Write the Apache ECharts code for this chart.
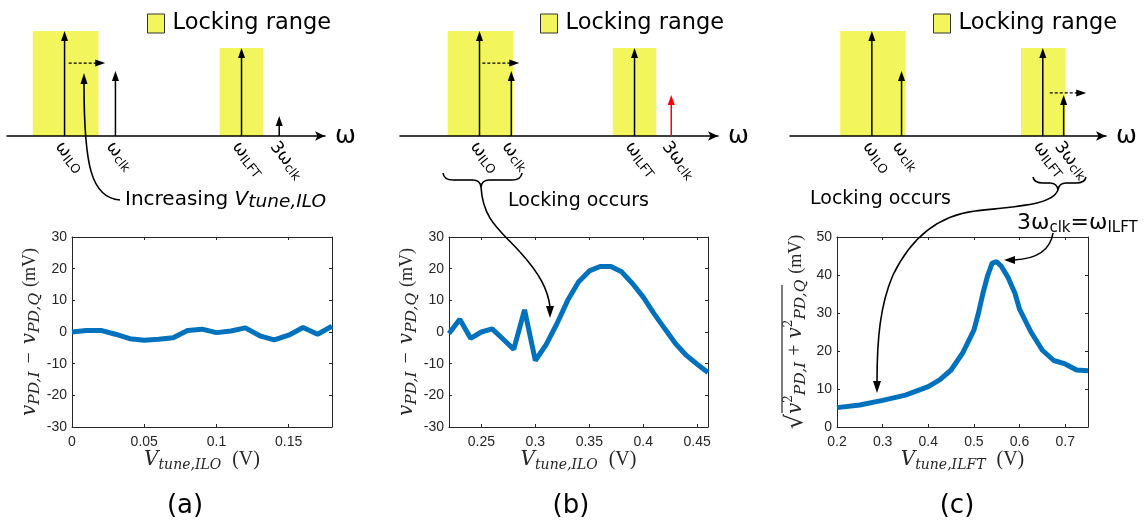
<!DOCTYPE html>
<html><head><meta charset="utf-8">
<script src="https://cdn.jsdelivr.net/npm/echarts@6/dist/echarts.min.js"></script>
<style>html,body{margin:0;padding:0;background:#fff}#c{width:1145px;height:526px}</style>
</head><body><div id="c"></div>
<script>
// ---------- data: measured curves ----------
const xA = [0,0.01,0.02,0.03,0.04,0.05,0.06,0.07,0.08,0.09,0.1,0.11,0.12,0.13,0.14,0.15,0.16,0.17,0.18];
const yA = [0,0.5,0.5,-0.7,-2.1,-2.6,-2.3,-1.8,0.5,0.9,-0.2,0.3,1.3,-1.2,-2.5,-1,1.4,-0.7,1.8];
const xB = [0.22,0.23,0.24,0.25,0.26,0.27,0.28,0.29,0.30,0.31,0.32,0.33,0.34,0.35,0.36,0.37,0.38,0.39,0.40,0.41,0.42,0.43,0.44,0.45,0.46];
const yB = [-0.5,4,-2,0,1,-2.2,-5.5,7,-9,-4,2.6,10,15.8,19.3,20.7,20.7,19,15.3,11,5.8,1,-3.7,-7.4,-10.2,-12.8];
const xC = [0.2,0.25,0.3,0.35,0.4,0.425,0.45,0.475,0.5,0.51,0.52,0.53,0.54,0.55,0.56,0.575,0.59,0.6,0.625,0.65,0.675,0.7,0.725,0.75];
const yC = [5.1,5.8,7,8.4,10.6,12.4,15,19.4,25.5,30,35.3,39.8,43.1,43.5,42.3,39.3,35.2,31,25,20.2,17.5,16.6,15,14.8];
// tick labels
const ticksXA = [0,0.05,0.1,0.15];
const ticksXB = [0.25,0.3,0.35,0.4,0.45];
const ticksXC = [0.2,0.3,0.4,0.5,0.6,0.7];
const ticksYAB = [-30,-20,-10,0,10,20,30];
const ticksYC = [0,10,20,30,40,50];
// ---------- schematic spectra (omega axis 0..100, amplitude 0..100) ----------
const toneNames = ['ILO','clk','ILFT','3clk'];
const tonesA = [[18.1,100],[34.1,62],[73.75,83.8],[85.6,19]];
const tonesB = [[25,100],[35,62],[73.75,83.8],[85.3,39]];
const tonesC = [[25.9,100],[35.3,62],[80,83.8],[86.6,39]];
const toneColorsA = ['#000','#000','#000','#000'];
const toneColorsB = ['#000','#000','#000','#f00'];
const toneColorsC = ['#000','#000','#000','#000'];
const boxesA = [[8.1,28.75,100],[66.9,80.6,83.8]];
const boxesB = [[15,35.6,100],[66.9,80.6,83.8]];
const boxesC = [[15.9,36.6,100],[73.1,87.2,83.8]];
const shiftA = [[19.4,30.9,69.5]];
const shiftB = [[25.9,37.5,69.5]];
const shiftC = [[82.2,93.75,41]];

const YEL = '#f2f55c';
const INK = '#262626';
const BLUE = '#0072BD';

const SERIF_IT = 'DejaVu Serif';
const mathRich = {
  v: {fontFamily:SERIF_IT, fontStyle:'italic', fontSize:20, color:INK, lineHeight:26},
  V: {fontFamily:SERIF_IT, fontStyle:'italic', fontSize:20, color:INK, lineHeight:24},
  s: {fontFamily:SERIF_IT, fontStyle:'italic', fontSize:15.5, color:INK, verticalAlign:'bottom', lineHeight:19},
  sx: {fontFamily:SERIF_IT, fontStyle:'italic', fontSize:14, color:INK, verticalAlign:'bottom', lineHeight:17},
  sup: {fontFamily:SERIF_IT, fontSize:12, color:INK, verticalAlign:'top', lineHeight:16},
  o: {fontFamily:'Liberation Serif', fontSize:20, color:INK, lineHeight:26, padding:[0,8,0,8]},
  p: {fontFamily:'Liberation Serif', fontSize:20, color:INK, lineHeight:26, padding:[0,6,0,6]},
  r: {fontFamily:'Liberation Serif', fontSize:18, color:INK, lineHeight:26, padding:[0,0,0,6]},
  rx: {fontFamily:'Liberation Serif', fontSize:20, color:INK, lineHeight:24, padding:[0,0,0,11]},
  sq: {fontFamily:'DejaVu Serif', fontSize:24, color:INK, lineHeight:26}
};

function plotAxes(gi, xmin, xmax, xt, ymin, ymax, yint, yt, xname, yname, ygap) {
  const line = {show:true, onZero:false, lineStyle:{color:INK, width:1}};
  const tick = (vals) => ({show:true, inside:true, length:3, customValues:vals, lineStyle:{color:INK, width:1}});
  const xs = [
    {type:'value', gridIndex:gi, min:xmin, max:xmax, position:'bottom', axisLine:line, axisTick:tick(xt),
     axisLabel:{customValues:xt, color:INK, fontFamily:'Liberation Sans', fontSize:14, margin:8},
     splitLine:{show:false}, name:xname, nameLocation:'middle', nameGap:21,
     nameTextStyle:{rich:mathRich}},
    {type:'value', gridIndex:gi, min:xmin, max:xmax, position:'top', axisLine:line, axisTick:tick(xt),
     axisLabel:{show:false}, splitLine:{show:false}}
  ];
  const ys = [
    {type:'value', gridIndex:gi, min:ymin, max:ymax, interval:yint, position:'left', axisLine:line, axisTick:tick(yt),
     axisLabel:{customValues:yt, color:INK, fontFamily:'Liberation Sans', fontSize:14, margin:5},
     splitLine:{show:false}, name:yname, nameLocation:'middle', nameGap:ygap,
     nameTextStyle:{rich:mathRich}},
    {type:'value', gridIndex:gi, min:ymin, max:ymax, interval:yint, position:'right', axisLine:line, axisTick:tick(yt),
     axisLabel:{show:false}, splitLine:{show:false}}
  ];
  return {xs, ys};
}

const nameXILO = '{V|V}{sx|tune,ILO}{rx|(V)}';
const nameXILFT = '{V|V}{sx|tune,ILFT}{rx|(V)}';
const nameYDiff = '{v|v}{s|PD,I}{o|−}{v|v}{s|PD,Q}{r|(mV)}';
const nameYMag = '{sq|√}{v|v}{sup|2}{s|PD,I}{p|+}{v|v}{sup|2}{s|PD,Q}{r|(mV)}';
const pA = plotAxes(0, 0, 0.18, ticksXA, -30, 30, 10, ticksYAB, nameXILO, nameYDiff, 28);
const pB = plotAxes(1, 0.22, 0.46, ticksXB, -30, 30, 10, ticksYAB, nameXILO, nameYDiff, 28);
const pC = plotAxes(2, 0.2, 0.75, ticksXC, 0, 50, 10, ticksYC, nameXILFT, nameYMag, 28);

function topX(gi) {
  return {type:'value', gridIndex:gi, min:0, max:100, z:5,
    axisLine:{show:true, symbol:['none','arrow'], symbolSize:[7,10], lineStyle:{color:'#000', width:1.5}},
    axisTick:{show:false}, axisLabel:{show:false}, splitLine:{show:false},
    name:'ω', nameLocation:'end', nameGap:10,
    nameTextStyle:{fontFamily:'DejaVu Sans', fontSize:25, color:'#000', verticalAlign:'middle', padding:[0,0,4,0]}};
}
function topY(gi) {
  return {type:'value', gridIndex:gi, min:0, max:100, show:false};
}

const labRich = {
  w: {fontFamily:'DejaVu Sans', fontSize:17, lineHeight:20, fill:'#000'},
  s: {fontFamily:'DejaVu Sans', fontSize:12.5, lineHeight:13, verticalAlign:'bottom', fill:'#000'}
};
function labText(k) {
  return k === '3clk' ? '{w|3ω}{s|clk}' : '{w|ω}{s|' + k + '}';
}

function boxSeries(gi, boxes) {
  return {type:'custom', name:'Locking range', xAxisIndex:gi, yAxisIndex:gi, data:boxes, clip:false, silent:true, z:1,
    itemStyle:{color:YEL},
    renderItem(params, api) {
      const p0 = api.coord([api.value(0), api.value(2)]);
      const p1 = api.coord([api.value(1), 0]);
      return {type:'rect', shape:{x:p0[0], y:p0[1], width:p1[0]-p0[0], height:p1[1]-p0[1]}, style:{fill:YEL}};
    }};
}
function toneSeries(gi, tones, colors) {
  return {type:'custom', xAxisIndex:gi, yAxisIndex:gi, data:tones, clip:false, silent:true, z:6,
    renderItem(params, api) {
      const x = api.value(0), h = api.value(1);
      const b = api.coord([x, 0]), t = api.coord([x, h]);
      const col = colors[params.dataIndex];
      const k = toneNames[params.dataIndex];
      return {type:'group', children:[
        {type:'line', shape:{x1:b[0], y1:b[1], x2:t[0], y2:t[1]+8}, style:{stroke:col, lineWidth:1.5}},
        {type:'polygon', shape:{points:[[t[0],t[1]],[t[0]-3.5,t[1]+10],[t[0]+3.5,t[1]+10]]}, style:{fill:col}},
        {type:'text', x:b[0]-6, y:b[1]+8, rotation:-0.89,
         style:{text:labText(k), rich:labRich, fill:'#000', align:'left', verticalAlign:'middle'}}
      ]};
    }};
}
function shiftSeries(gi, arr) {
  return {type:'custom', xAxisIndex:gi, yAxisIndex:gi, data:arr, clip:false, silent:true, z:6,
    renderItem(params, api) {
      const p0 = api.coord([api.value(0), api.value(2)]);
      const p1 = api.coord([api.value(1), api.value(2)]);
      return {type:'group', children:[
        {type:'line', shape:{x1:p0[0], y1:p0[1], x2:p1[0]-9, y2:p1[1]}, style:{stroke:'#000', lineWidth:1.3, lineDash:[3,2]}},
        {type:'polygon', shape:{points:[[p1[0],p1[1]],[p1[0]-10,p1[1]-3.5],[p1[0]-10,p1[1]+3.5]]}, style:{fill:'#000'}}
      ]};
    }};
}
function dataSeries(gi, xs, ys) {
  return {type:'line', xAxisIndex:gi*2, yAxisIndex:gi*2, data:xs.map((x,i)=>[x, ys[i]]),
    showSymbol:false, symbol:'none', lineStyle:{color:BLUE, width:5}, itemStyle:{color:BLUE}, silent:true, z:3};
}

const legendItem = {name:'Locking range', icon:'rect', itemStyle:{color:YEL, borderColor:'#333', borderWidth:1}};
function legendAt(left) {
  return {left, top:12, padding:0, itemWidth:17, itemHeight:19, selectedMode:false, data:[legendItem],
    textStyle:{fontFamily:'DejaVu Sans', fontSize:22.5, color:'#000', padding:[0,0,0,3]}};
}

// ---------- annotation helpers (drawn strokes) ----------
const ST = {fill:'none', stroke:'#000', lineWidth:1.6};
function cubic(a) { return {type:'bezierCurve', z:20, silent:true, shape:{x1:a[0],y1:a[1],cpx1:a[2],cpy1:a[3],cpx2:a[4],cpy2:a[5],x2:a[6],y2:a[7]}, style:ST}; }
function quad(a) { return {type:'bezierCurve', z:20, silent:true, shape:{x1:a[0],y1:a[1],cpx1:a[2],cpy1:a[3],x2:a[4],y2:a[5]}, style:ST}; }
function seg(a, st) { return {type:'line', z:20, silent:true, shape:{x1:a[0],y1:a[1],x2:a[2],y2:a[3]}, style:st || ST}; }
function head(pts) { return {type:'polygon', z:20, silent:true, shape:{points:pts}, style:{fill:'#000'}}; }
function brace(x0, xc, x1, yEnd, yMid, yTip) {
  return [
    quad([x0,yEnd, x0+1,yMid, x0+10,yMid]),
    seg([x0+10,yMid, xc-8,yMid]),
    quad([xc-8,yMid, xc-1,yMid, xc,yTip]),
    quad([xc,yTip, xc+1,yMid, xc+8,yMid]),
    seg([xc+8,yMid, x1-10,yMid]),
    quad([x1-10,yMid, x1-1,yMid, x1,yEnd])
  ];
}
function label(x, y, text, extra) {
  return {type:'text', x, y, z:20, silent:true, style:Object.assign({text, fill:'#000', align:'left', verticalAlign:'middle',
    fontFamily:'DejaVu Sans', fontSize:19}, extra || {})};
}

const graphics = [].concat(
  // (a)
  [cubic([120,200, 91,198, 84,165, 84,84]), head([[84,73],[80.5,84],[87.5,84]]),
   label(125, 200, '{n|Increasing }{i|V}{is|tune,ILO}', {rich:{
      n:{fontFamily:'DejaVu Sans', fontSize:20, lineHeight:24},
      i:{fontFamily:'DejaVu Sans', fontStyle:'italic', fontSize:20, lineHeight:24},
      is:{fontFamily:'DejaVu Sans', fontStyle:'italic', fontSize:18.5, lineHeight:20, verticalAlign:'bottom'}}})],
  // (b)
  brace(443, 481, 522, 173, 180, 187),
  [cubic([481,187, 483,220, 500,230, 520,252]), cubic([520,252, 540,274, 548,290, 550,307]),
   head([[550,318],[546,306],[554,306]]), label(508, 201, 'Locking occurs')],
  // (c)
  brace(1033, 1058, 1086, 177, 183, 190),
  [cubic([1058,190, 1052,205, 1020,206, 975,211]), cubic([975,211, 935,216, 910,240, 893,275]),
   cubic([893,275, 880,305, 877,340, 877,382]), head([[877,393],[873,381],[881,381]]),
   label(810, 199, 'Locking occurs'),
   label(1017, 223, '{w|3ω}{s|clk}{w|=ω}{s|ILFT}', {rich:{
      w:{fontFamily:'DejaVu Sans', fontSize:22, lineHeight:26},
      s:{fontFamily:'DejaVu Sans', fontSize:15, lineHeight:16, verticalAlign:'bottom'}}}),
   cubic([1053,233, 1050,252, 1035,259, 1014,260]), head([[1004,260],[1015,256],[1015,264]]),
   // radical overbar for the (c) y-axis name
   seg([782,413, 782,285], {stroke:INK, lineWidth:1.2})],
  // captions
  [label(185, 506, '(a)', {fontSize:26, align:'center'}),
   label(571, 506, '(b)', {fontSize:26, align:'center'}),
   label(957, 506, '(c)', {fontSize:26, align:'center'})]
);

const option = {
  animation:false,
  backgroundColor:'#fff',
  grid:[
    {left:72, top:237, width:260, height:190},
    {left:449, top:237, width:259, height:190},
    {left:837, top:237, width:251, height:190},
    {left:7, top:31, width:318, height:105},
    {left:400, top:31, width:318, height:105},
    {left:790, top:31, width:316, height:105}
  ],
  xAxis:[...pA.xs, ...pB.xs, ...pC.xs, topX(3), topX(4), topX(5)],
  yAxis:[...pA.ys, ...pB.ys, ...pC.ys, topY(3), topY(4), topY(5)],
  legend:[legendAt(147), legendAt(540), legendAt(933)],
  series:[
    dataSeries(0, xA, yA), dataSeries(1, xB, yB), dataSeries(2, xC, yC),
    boxSeries(6, boxesA), boxSeries(7, boxesB), boxSeries(8, boxesC),
    toneSeries(6, tonesA, toneColorsA), toneSeries(7, tonesB, toneColorsB), toneSeries(8, tonesC, toneColorsC),
    shiftSeries(6, shiftA), shiftSeries(7, shiftB), shiftSeries(8, shiftC)
  ],
  graphic:graphics
};
const chart = echarts.init(document.getElementById('c'), null, {renderer:'canvas'});
chart.setOption(option);
</script>
</body></html>
